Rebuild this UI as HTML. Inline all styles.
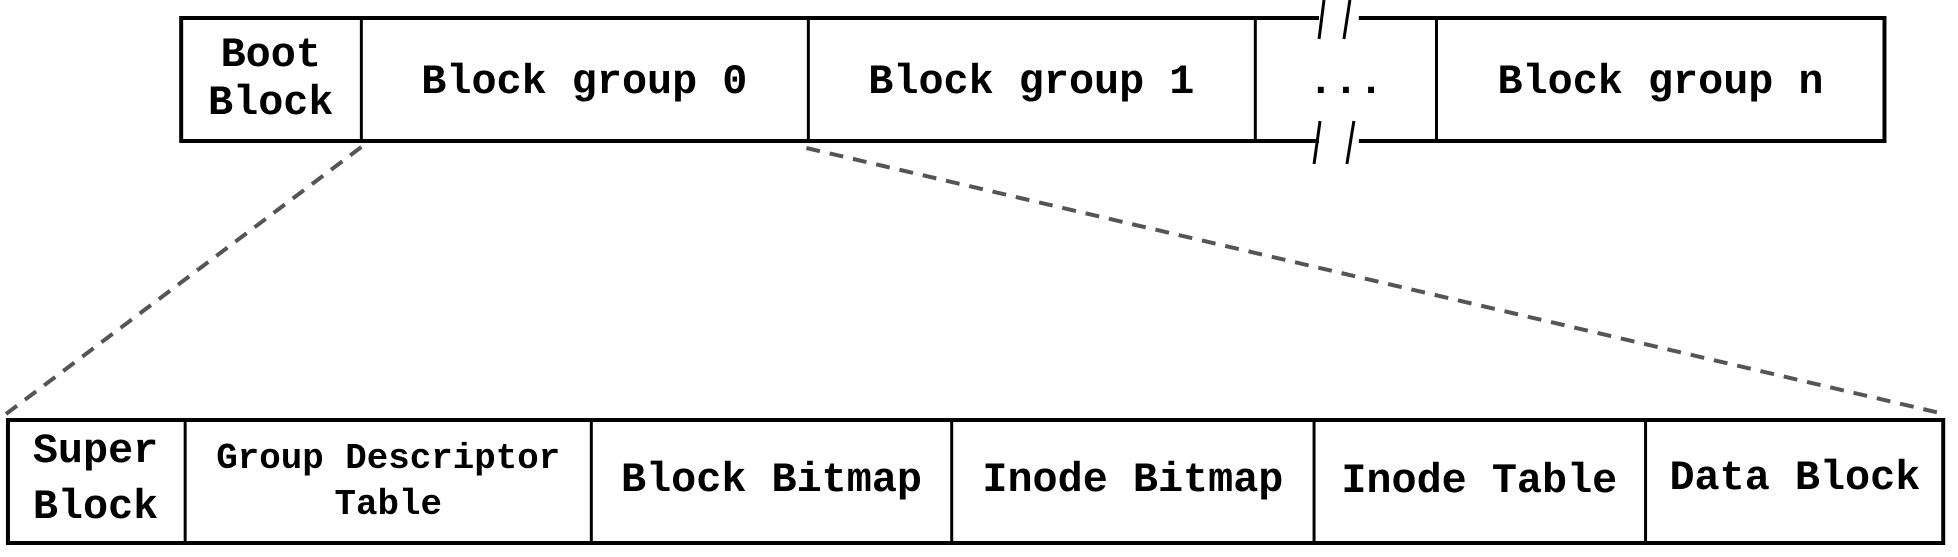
<!DOCTYPE html>
<html><head><style>html,body{margin:0;padding:0;background:#fff;}svg{display:block}</style></head>
<body>
<svg width="1958" height="557" viewBox="0 0 1958 557" xmlns="http://www.w3.org/2000/svg">
<g transform="scale(0.9955,1)">
<g fill="none" stroke="#000">
<rect x="182" y="18" width="1711" height="123" stroke-width="4"/>
<line x1="363" y1="18" x2="363" y2="141" stroke-width="3"/>
<line x1="812" y1="18" x2="812" y2="141" stroke-width="3"/>
<line x1="1261" y1="18" x2="1261" y2="141" stroke-width="3"/>
<line x1="1443" y1="18" x2="1443" y2="141" stroke-width="3"/>
<rect x="8" y="420" width="1944" height="123" stroke-width="4"/>
<line x1="186" y1="420" x2="186" y2="543" stroke-width="3"/>
<line x1="594" y1="420" x2="594" y2="543" stroke-width="3"/>
<line x1="956" y1="420" x2="956" y2="543" stroke-width="3"/>
<line x1="1320" y1="420" x2="1320" y2="543" stroke-width="3"/>
<line x1="1653" y1="420" x2="1653" y2="543" stroke-width="3"/>
</g>
<rect x="1325" y="0" width="40" height="40" fill="#fff"/>
<rect x="1325" y="120" width="40" height="44" fill="#fff"/>
<g stroke="#000" stroke-width="3">
<line x1="1325" y1="39" x2="1330" y2="0"/>
<line x1="1350" y1="39" x2="1356" y2="0"/>
<line x1="1320" y1="164" x2="1326" y2="121"/>
<line x1="1353" y1="164" x2="1360" y2="121"/>
</g>
<g stroke="#555" stroke-width="4" stroke-dasharray="14 10">
<line x1="363" y1="147" x2="6" y2="414"/>
<line x1="810" y1="148" x2="1953" y2="414"/>
</g>
<g font-family="'Liberation Mono', monospace" font-weight="bold" font-size="42" text-anchor="middle" fill="#000">
<text x="272" y="66">Boot</text>
<text x="272" y="114">Block</text>
<text x="587" y="93">Block group 0</text>
<text x="1036" y="93">Block group 1</text>
<text x="1352" y="93">...</text>
<text x="1668" y="93">Block group n</text>
<text x="96" y="462">Super</text>
<text x="96" y="518">Block</text>
<text font-size="36" x="390" y="468">Group Descriptor</text>
<text font-size="36" x="390" y="514">Table</text>
<text x="775" y="491">Block Bitmap</text>
<text x="1138" y="491">Inode Bitmap</text>
<text x="1486" y="492">Inode Table</text>
<text x="1803" y="489">Data Block</text>
</g>
</g>
</svg>
</body></html>
